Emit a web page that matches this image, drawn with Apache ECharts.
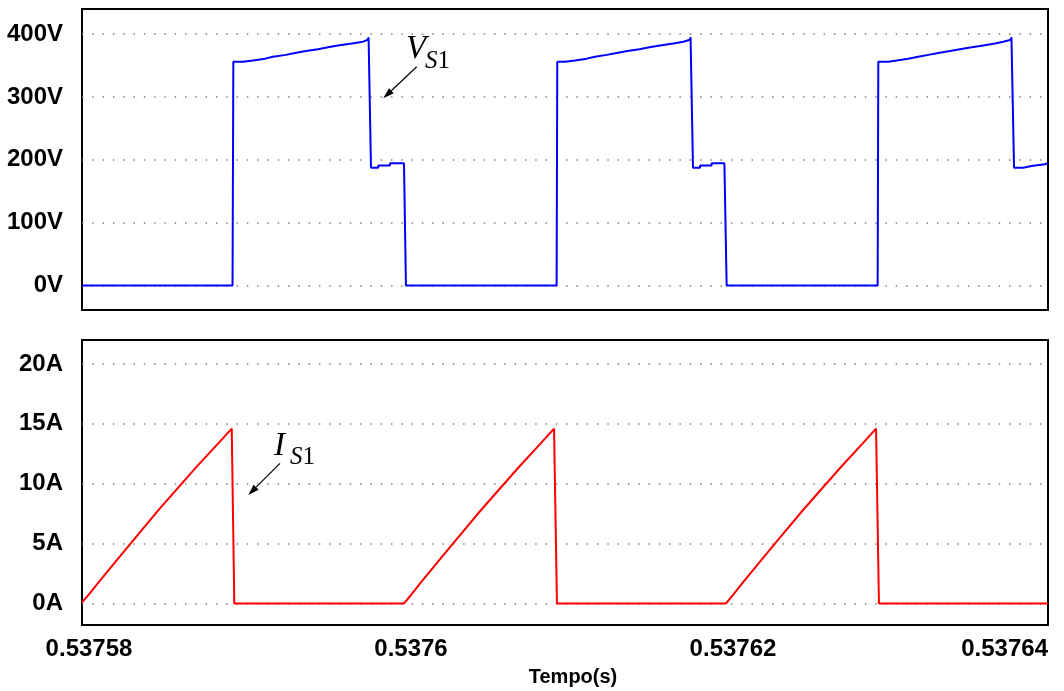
<!DOCTYPE html>
<html>
<head>
<meta charset="utf-8">
<script src="https://cdn.jsdelivr.net/npm/echarts@6/dist/echarts.min.js"></script>
<style>
html,body{margin:0;padding:0;background:#fff;}
#chart{width:1064px;height:691px;}
</style>
</head>
<body>
<div id="chart"></div>
<script>
// ---- data ----
const xTicks = [0.53758, 0.5376, 0.53762, 0.53764];
const vTicks = [0, 100, 200, 300, 400];
const iTicks = [0, 5, 10, 15, 20];
const xGrid = [0.5376, 0.53762];

// V_S1 (time [s], voltage [V]) per switching cycle
const vsCycle1 = [
  [0.53758000, 0], [0.53758935, 0], [0.53758940, 356],
  [0.53759000, 356], [0.53759000, 358], [0.53759062, 358], [0.53759062, 361],
  [0.53759137, 361], [0.53759137, 364], [0.53759186, 364], [0.53759186, 367],
  [0.53759267, 367], [0.53759267, 370], [0.53759323, 370], [0.53759323, 373],
  [0.53759391, 373], [0.53759391, 376], [0.53759466, 376], [0.53759466, 379],
  [0.53759528, 379], [0.53759528, 382], [0.53759590, 382], [0.53759590, 385],
  [0.53759677, 385], [0.53759677, 388], [0.53759745, 388], [0.53759745, 391],
  [0.53759776, 391], [0.53759780, 395], [0.53759783, 395], [0.53759795, 187.5],
  [0.53759840, 187.5], [0.53759840, 191], [0.53759913, 191], [0.53759913, 194.5],
  [0.53760000, 194.5], [0.53760012, 0]
];
const vsCycle2 = [
  [0.53760948, 0], [0.53760952, 356],
  [0.53761000, 356], [0.53761000, 358], [0.53761062, 358], [0.53761062, 361],
  [0.53761135, 361], [0.53761135, 364], [0.53761186, 364], [0.53761186, 367],
  [0.53761259, 367], [0.53761259, 370], [0.53761321, 370], [0.53761321, 373],
  [0.53761387, 373], [0.53761387, 376], [0.53761462, 376], [0.53761462, 379],
  [0.53761524, 379], [0.53761524, 382], [0.53761590, 382], [0.53761590, 385],
  [0.53761673, 385], [0.53761673, 388], [0.53761735, 388], [0.53761735, 391],
  [0.53761776, 391], [0.53761780, 395], [0.53761783, 395], [0.53761795, 187.5],
  [0.53761839, 187.5], [0.53761839, 191], [0.53761911, 191], [0.53761911, 194.5],
  [0.53761990, 194.5], [0.53762004, 0]
];
const vsCycle3 = [
  [0.53762942, 0], [0.53762946, 356],
  [0.53763008, 356], [0.53763008, 358], [0.53763060, 358], [0.53763060, 361],
  [0.53763132, 361], [0.53763132, 364], [0.53763194, 364], [0.53763194, 367],
  [0.53763257, 367], [0.53763257, 370], [0.53763319, 370], [0.53763319, 373],
  [0.53763391, 373], [0.53763391, 376], [0.53763453, 376], [0.53763453, 379],
  [0.53763526, 379], [0.53763526, 382], [0.53763598, 382], [0.53763598, 385],
  [0.53763671, 385], [0.53763671, 388], [0.53763722, 388], [0.53763722, 391],
  [0.53763770, 391], [0.53763773, 395], [0.53763776, 395], [0.53763789, 187.5],
  [0.53763845, 187.5], [0.53763845, 190.5], [0.53763907, 190.5], [0.53763907, 193],
  [0.53763981, 193], [0.53763981, 195], [0.53764000, 195]
];

// I_S1 (time [s], current [A]) per switching cycle
const isCycle1 = [
  [0.53758000, 0.1], [0.53758037, 0.65], [0.53758099, 1.7], [0.53758224, 3.75],
  [0.53758348, 5.75], [0.53758472, 7.75], [0.53758596, 9.65], [0.53758721, 11.55],
  [0.53758845, 13.35], [0.53758930, 14.6], [0.53758946, 0]
];
const isCycle2 = [
  [0.53760000, 0], [0.53760037, 0.6], [0.53760099, 1.65], [0.53760224, 3.7],
  [0.53760348, 5.7], [0.53760472, 7.7], [0.53760596, 9.6], [0.53760721, 11.5],
  [0.53760845, 13.3], [0.53760932, 14.6], [0.53760950, 0]
];
const isCycle3 = [
  [0.53762000, 0], [0.53762037, 0.6], [0.53762099, 1.65], [0.53762224, 3.7],
  [0.53762348, 5.7], [0.53762472, 7.7], [0.53762596, 9.6], [0.53762721, 11.5],
  [0.53762845, 13.3], [0.53762932, 14.6], [0.53762950, 0], [0.53764000, 0]
];

// ---- chart ----
const FONT = 'Liberation Sans, Arial, sans-serif';
const SERIF = 'Liberation Serif, Times New Roman, serif';
const dotted = { type: [1.5, 8.8], color: '#808080', width: 1.5 };

function gridMarks(yTicks) {
  return {
    silent: true, symbol: ['none', 'none'], z: 1, animation: false,
    label: { show: false }, lineStyle: dotted,
    data: yTicks.map(v => ({ yAxis: v })).concat(xGrid.map(x => ({ xAxis: x })))
  };
}

const chart = echarts.init(document.getElementById('chart'), null, { renderer: 'canvas' });
const option = {
  animation: false,
  backgroundColor: '#fff',
  grid: [
    { left: 82, right: 16, top: 9, height: 301, show: true, borderColor: '#000', borderWidth: 2, backgroundColor: 'transparent', containLabel: false },
    { left: 82, right: 16, top: 340, height: 285, show: true, borderColor: '#000', borderWidth: 2, backgroundColor: 'transparent', containLabel: false }
  ],
  xAxis: [
    { type: 'value', gridIndex: 0, min: 0.53758, max: 0.53764,
      axisLine: { show: false }, axisTick: { show: false }, axisLabel: { show: false }, splitLine: { show: false } },
    { type: 'value', gridIndex: 1, min: 0.53758, max: 0.53764,
      axisLine: { show: false }, axisTick: { show: false }, splitLine: { show: false },
      axisLabel: { customValues: xTicks, formatter: v => String(+v.toFixed(5)),
        fontFamily: FONT, fontWeight: 'bold', fontSize: 24, color: '#000', margin: 12,
        padding: [0, 0, 0, 14], alignMaxLabel: 'right' },
      name: 'Tempo(s)', nameLocation: 'middle', nameGap: 42,
      nameTextStyle: { fontFamily: FONT, fontWeight: 'bold', fontSize: 20, color: '#000', padding: [0, 0, 0, 16] } }
  ],
  yAxis: [
    { type: 'value', gridIndex: 0, min: -39, max: 440,
      axisLine: { show: false }, axisTick: { show: false }, splitLine: { show: false },
      axisLabel: { customValues: vTicks, formatter: '{value}V', fontFamily: FONT, fontWeight: 'bold', fontSize: 24, color: '#000', margin: 19 } },
    { type: 'value', gridIndex: 1, min: -1.8, max: 22,
      axisLine: { show: false }, axisTick: { show: false }, splitLine: { show: false },
      axisLabel: { customValues: iTicks, formatter: '{value}A', fontFamily: FONT, fontWeight: 'bold', fontSize: 24, color: '#000', margin: 19 } }
  ],
  series: [
    { name: 'VS1', type: 'line', xAxisIndex: 0, yAxisIndex: 0, symbol: 'none', z: 2,
      data: vsCycle1.concat(vsCycle2, vsCycle3),
      lineStyle: { color: '#0000ff', width: 2 }, markLine: gridMarks(vTicks) },
    { name: 'IS1', type: 'line', xAxisIndex: 1, yAxisIndex: 1, symbol: 'none', z: 2,
      data: isCycle1.concat(isCycle2, isCycle3),
      lineStyle: { color: '#ff0000', width: 2 }, markLine: gridMarks(iTicks) }
  ],
  graphic: [
    { type: 'text', left: 406, top: 33, style: { text: 'V', font: 'italic 33px ' + SERIF, fill: '#000' } },
    { type: 'text', left: 425, top: 49, style: { text: '{a|S}{b|1}', rich: {
        a: { fontFamily: SERIF, fontStyle: 'italic', fontSize: 25, fill: '#000' },
        b: { fontFamily: SERIF, fontSize: 25, fill: '#000' } } } },
    { type: 'line', shape: { x1: 416.7, y1: 66.7, x2: 391.3, y2: 90.7 }, style: { stroke: '#000', lineWidth: 1.2 } },
    { type: 'polygon', shape: { points: [[383.3, 98.3], [393.7, 93.3], [388.9, 88.2]] }, style: { fill: '#000' } },
    { type: 'text', left: 274, top: 430, style: { text: 'I', font: 'italic 33px ' + SERIF, fill: '#000' } },
    { type: 'text', left: 290, top: 445, style: { text: '{a|S}{b|1}', rich: {
        a: { fontFamily: SERIF, fontStyle: 'italic', fontSize: 25, fill: '#000' },
        b: { fontFamily: SERIF, fontSize: 25, fill: '#000' } } } },
    { type: 'line', shape: { x1: 280, y1: 463.3, x2: 256.1, y2: 487.2 }, style: { stroke: '#000', lineWidth: 1.2 } },
    { type: 'polygon', shape: { points: [[248.3, 495], [258.6, 489.7], [253.6, 484.7]] }, style: { fill: '#000' } }
  ]
};
chart.setOption(option);
</script>
</body>
</html>
